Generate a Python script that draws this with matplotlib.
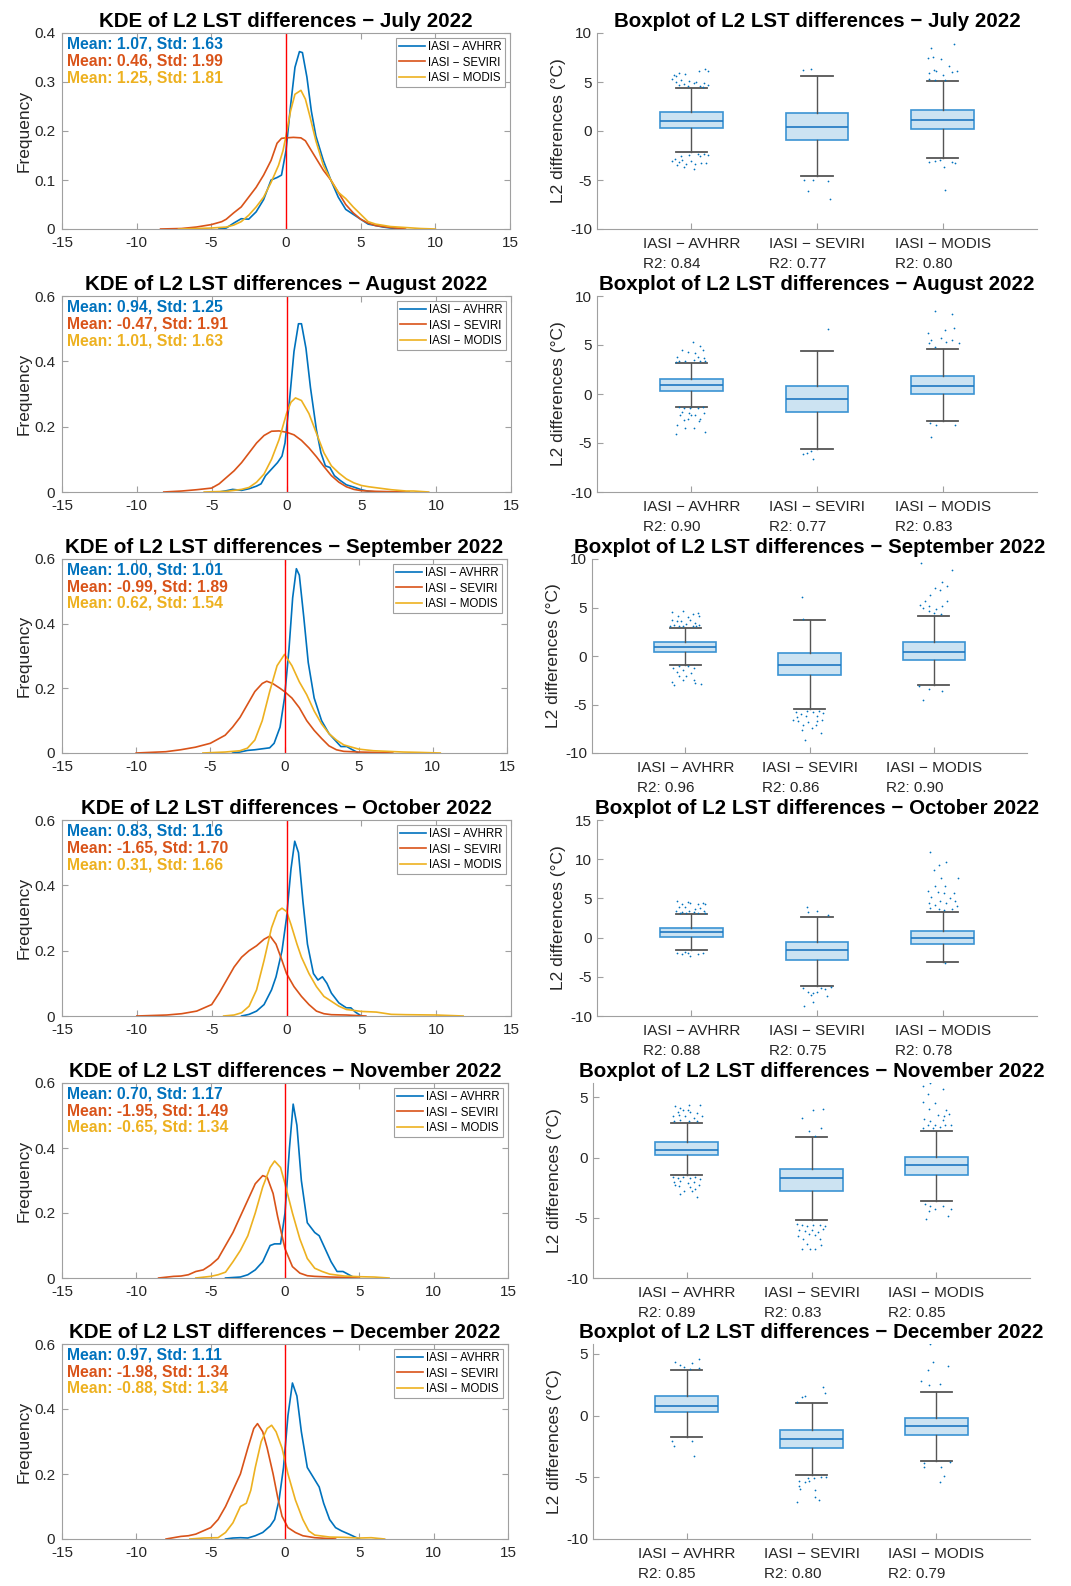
import matplotlib
matplotlib.use('Agg')
import matplotlib.pyplot as plt
import numpy as np

plt.rcParams['font.family'] = ['Liberation Sans', 'DejaVu Sans']
plt.rcParams['axes.unicode_minus'] = False

# ---- data ----
months = ['July', 'August', 'September', 'October', 'November', 'December']
series = ['IASI \u2212 AVHRR', 'IASI \u2212 SEVIRI', 'IASI \u2212 MODIS']
colors = ['#0072BD', '#D95319', '#EDB120']

means = [[1.07, 0.46, 1.25], [0.94, -0.47, 1.01], [1.00, -0.99, 0.62],
         [0.83, -1.65, 0.31], [0.70, -1.95, -0.65], [0.97, -1.98, -0.88]]
stds = [[1.63, 1.99, 1.81], [1.25, 1.91, 1.63], [1.01, 1.89, 1.54],
        [1.16, 1.70, 1.66], [1.17, 1.49, 1.34], [1.11, 1.34, 1.34]]
r2 = [[0.84, 0.77, 0.80], [0.90, 0.77, 0.83], [0.96, 0.86, 0.90],
      [0.88, 0.75, 0.78], [0.89, 0.83, 0.85], [0.85, 0.80, 0.79]]

kde_ymax = [0.4, 0.6, 0.6, 0.6, 0.6, 0.6]

# KDE curves (x, density)
kde_jul_avhrr = [(-4.5, 0), (-4, 0.002), (-3.5, 0.012), (-3, 0.021), (-2.5, 0.02), (-2, 0.035), (-1.5, 0.06),
                 (-1, 0.1), (-0.6, 0.105), (-0.3, 0.11), (0, 0.16), (0.3, 0.25), (0.6, 0.33), (0.9, 0.362),
                 (1.1, 0.36), (1.4, 0.31), (1.7, 0.24), (2, 0.19), (2.5, 0.14), (3, 0.1), (3.5, 0.065),
                 (4, 0.04), (4.5, 0.03), (5, 0.02), (5.5, 0.01), (6, 0.007), (6.5, 0.004), (7, 0.002), (7.8, 0)]
kde_jul_seviri = [(-8.4, 0), (-7, 0.001), (-6, 0.004), (-5, 0.009), (-4.3, 0.015), (-4, 0.02), (-3.5, 0.033),
                  (-3, 0.045), (-2.5, 0.065), (-2, 0.085), (-1.5, 0.11), (-1, 0.14), (-0.6, 0.175), (-0.3, 0.185),
                  (0, 0.186), (0.5, 0.187), (1, 0.186), (1.3, 0.18), (1.7, 0.16), (2, 0.145), (2.5, 0.12),
                  (3, 0.1), (3.5, 0.075), (4, 0.05), (4.5, 0.033), (5, 0.02), (5.5, 0.012), (6, 0.007),
                  (7, 0.003), (8, 0)]
kde_jul_modis = [(-7.2, 0), (-6, 0.001), (-5, 0.002), (-4, 0.004), (-3.5, 0.008), (-3, 0.015), (-2.5, 0.028),
                 (-2, 0.045), (-1.5, 0.065), (-1, 0.095), (-0.5, 0.13), (-0.2, 0.16), (0, 0.19), (0.3, 0.24),
                 (0.6, 0.275), (1, 0.283), (1.3, 0.265), (1.6, 0.23), (2, 0.18), (2.5, 0.13), (3, 0.1),
                 (3.5, 0.075), (4, 0.062), (4.5, 0.045), (5, 0.03), (5.5, 0.015), (6, 0.01), (7, 0.005),
                 (8, 0.003), (9, 0.001), (10, 0)]

kde_aug_avhrr = [(-4.5, 0), (-4, 0.004), (-3.6, 0.008), (-3, 0.005), (-2.5, 0.01), (-2, 0.018), (-1.7, 0.025),
                 (-1.4, 0.05), (-1, 0.07), (-0.6, 0.09), (-0.3, 0.11), (-0.1, 0.15), (0.2, 0.28), (0.5, 0.43),
                 (0.8, 0.515), (1.0, 0.515), (1.3, 0.44), (1.6, 0.32), (2, 0.19), (2.3, 0.12), (2.6, 0.08),
                 (2.9, 0.075), (3.2, 0.05), (3.6, 0.035), (4, 0.022), (4.5, 0.015), (5, 0.007), (5.5, 0.002),
                 (6, 0)]
kde_aug_seviri = [(-8.2, 0), (-7, 0.003), (-6, 0.007), (-5, 0.012), (-4.5, 0.025), (-4, 0.045), (-3.5, 0.065),
                  (-3, 0.09), (-2.5, 0.12), (-2, 0.15), (-1.5, 0.173), (-1, 0.186), (-0.5, 0.187), (0, 0.183),
                  (0.5, 0.175), (1, 0.158), (1.5, 0.135), (2, 0.108), (2.5, 0.078), (3, 0.05), (3.5, 0.03),
                  (4, 0.016), (4.5, 0.008), (5, 0.004), (6, 0.002), (7, 0.001), (8.2, 0)]
kde_aug_modis = [(-5.5, 0), (-4, 0.002), (-3, 0.008), (-2.5, 0.014), (-2, 0.03), (-1.5, 0.055), (-1, 0.1),
                 (-0.5, 0.16), (0, 0.24), (0.3, 0.275), (0.6, 0.288), (1, 0.28), (1.5, 0.24), (2, 0.18),
                 (2.5, 0.12), (3, 0.08), (3.5, 0.058), (4, 0.04), (4.5, 0.028), (5, 0.02), (5.5, 0.016),
                 (6, 0.013), (7, 0.007), (8, 0.003), (8.5, 0.003), (9.5, 0)]

kde_sep_avhrr = [(-3.5, 0), (-3, 0.003), (-2.5, 0.008), (-2, 0.01), (-1.5, 0.013), (-1, 0.016), (-0.7, 0.03),
                 (-0.3, 0.08), (0, 0.17), (0.3, 0.32), (0.55, 0.48), (0.8, 0.57), (1.0, 0.55), (1.3, 0.42),
                 (1.6, 0.28), (2, 0.17), (2.5, 0.1), (3, 0.06), (3.5, 0.035), (3.8, 0.02), (4.2, 0.02),
                 (4.5, 0.012), (5, 0)]
kde_sep_seviri = [(-10, 0), (-8, 0.004), (-7, 0.01), (-6, 0.018), (-5, 0.03), (-4, 0.055), (-3.5, 0.08),
                  (-3, 0.11), (-2.5, 0.15), (-2, 0.19), (-1.5, 0.215), (-1.2, 0.222), (-0.8, 0.215),
                  (-0.3, 0.2), (0, 0.19), (0.5, 0.17), (1, 0.14), (1.5, 0.1), (2, 0.07), (2.5, 0.045),
                  (3, 0.022), (3.5, 0.01), (4, 0.005), (5, 0.003), (6, 0.002), (7.3, 0)]
kde_sep_modis = [(-5.5, 0), (-4, 0.003), (-3, 0.007), (-2.5, 0.015), (-2, 0.04), (-1.5, 0.1), (-1, 0.19),
                 (-0.5, 0.27), (0, 0.305), (0.5, 0.27), (1, 0.22), (1.5, 0.18), (2, 0.13), (2.5, 0.09),
                 (3, 0.06), (3.5, 0.04), (4, 0.025), (5, 0.012), (6, 0.007), (7, 0.005), (8, 0.003),
                 (9, 0.002), (10.5, 0)]

kde_oct_avhrr = [(-3, 0), (-2.5, 0.005), (-2, 0.015), (-1.5, 0.035), (-1, 0.08), (-0.7, 0.12), (-0.3, 0.2),
                 (0, 0.3), (0.3, 0.45), (0.55, 0.535), (0.8, 0.5), (1.1, 0.35), (1.4, 0.22), (1.8, 0.13),
                 (2.1, 0.11), (2.4, 0.12), (2.7, 0.1), (3, 0.07), (3.5, 0.04), (4, 0.025), (4.3, 0.025),
                 (4.6, 0.012), (5, 0)]
kde_oct_seviri = [(-10, 0), (-8, 0.003), (-7, 0.007), (-6, 0.015), (-5, 0.035), (-4.5, 0.07), (-4, 0.11),
                  (-3.5, 0.15), (-3, 0.18), (-2.5, 0.2), (-2, 0.215), (-1.5, 0.235), (-1.1, 0.245),
                  (-0.7, 0.22), (-0.3, 0.17), (0, 0.13), (0.5, 0.09), (1, 0.06), (1.5, 0.035), (2, 0.015),
                  (2.5, 0.007), (3, 0.004), (4, 0.003), (5.3, 0)]
kde_oct_modis = [(-4.2, 0), (-3.5, 0.003), (-3, 0.01), (-2.5, 0.03), (-2, 0.08), (-1.5, 0.17), (-1, 0.27),
                 (-0.6, 0.32), (-0.3, 0.33), (0, 0.32), (0.3, 0.28), (0.7, 0.22), (1, 0.18), (1.5, 0.13),
                 (2, 0.09), (2.5, 0.06), (3, 0.045), (3.5, 0.03), (4, 0.02), (5, 0.014), (6, 0.012),
                 (7, 0.005), (8, 0.004), (10, 0.003), (11.8, 0)]

kde_nov_avhrr = [(-4, 0), (-3, 0.003), (-2.5, 0.01), (-2, 0.025), (-1.5, 0.05), (-1, 0.1), (-0.7, 0.105),
                 (-0.3, 0.105), (0, 0.2), (0.3, 0.4), (0.55, 0.535), (0.8, 0.47), (1.1, 0.3), (1.5, 0.17),
                 (2, 0.14), (2.3, 0.13), (2.7, 0.09), (3.1, 0.05), (3.5, 0.02), (3.9, 0.02), (4.3, 0.01),
                 (4.7, 0)]
kde_nov_seviri = [(-8.5, 0), (-7.5, 0.005), (-7, 0.006), (-6.5, 0.01), (-6, 0.02), (-5.5, 0.025), (-5, 0.04),
                  (-4.5, 0.06), (-4, 0.1), (-3.5, 0.14), (-3, 0.19), (-2.5, 0.24), (-2, 0.29), (-1.5, 0.315),
                  (-1.2, 0.31), (-0.8, 0.26), (-0.5, 0.19), (-0.2, 0.13), (0, 0.09), (0.5, 0.035), (1, 0.015),
                  (1.5, 0.007), (2, 0.005), (3, 0.003), (4, 0.002), (5, 0)]
kde_nov_modis = [(-6, 0), (-5, 0.005), (-4.5, 0.01), (-4, 0.018), (-3.5, 0.05), (-3, 0.085), (-2.5, 0.13),
                 (-2, 0.2), (-1.5, 0.28), (-1, 0.34), (-0.7, 0.36), (-0.3, 0.34), (0, 0.29), (0.5, 0.2),
                 (1, 0.12), (1.5, 0.06), (2, 0.03), (2.5, 0.02), (3, 0.012), (4, 0.006), (5, 0.004),
                 (6, 0.003), (7, 0)]

kde_dec_avhrr = [(-4, 0), (-3.5, 0.003), (-3, 0.004), (-2.5, 0.003), (-2, 0.01), (-1.5, 0.02), (-1, 0.04),
                 (-0.7, 0.06), (-0.4, 0.12), (-0.1, 0.22), (0.2, 0.38), (0.5, 0.48), (0.8, 0.44), (1.1, 0.33),
                 (1.5, 0.22), (1.9, 0.19), (2.3, 0.16), (2.6, 0.11), (3, 0.06), (3.4, 0.035), (3.8, 0.025),
                 (4.3, 0.015), (5, 0)]
kde_dec_seviri = [(-8, 0), (-7, 0.008), (-6.5, 0.01), (-6, 0.015), (-5.5, 0.025), (-5, 0.035), (-4.5, 0.06),
                  (-4, 0.1), (-3.5, 0.15), (-3, 0.2), (-2.5, 0.28), (-2.1, 0.34), (-1.85, 0.355), (-1.5, 0.33),
                  (-1.2, 0.28), (-0.8, 0.2), (-0.5, 0.13), (-0.2, 0.07), (0.2, 0.035), (0.7, 0.02),
                  (1.2, 0.01), (2, 0.004), (3.4, 0)]
kde_dec_modis = [(-6.4, 0), (-5.5, 0.003), (-4.5, 0.004), (-4, 0.02), (-3.5, 0.05), (-3, 0.1), (-2.6, 0.11),
                 (-2.3, 0.15), (-2, 0.22), (-1.6, 0.3), (-1.2, 0.34), (-0.9, 0.35), (-0.6, 0.33), (-0.2, 0.28),
                 (0.2, 0.2), (0.7, 0.12), (1.2, 0.06), (1.6, 0.025), (2, 0.012), (3, 0.006), (4, 0.005),
                 (5, 0.003), (5.8, 0.004), (6.7, 0)]

kde_curves = [[kde_jul_avhrr, kde_jul_seviri, kde_jul_modis],
              [kde_aug_avhrr, kde_aug_seviri, kde_aug_modis],
              [kde_sep_avhrr, kde_sep_seviri, kde_sep_modis],
              [kde_oct_avhrr, kde_oct_seviri, kde_oct_modis],
              [kde_nov_avhrr, kde_nov_seviri, kde_nov_modis],
              [kde_dec_avhrr, kde_dec_seviri, kde_dec_modis]]

# boxplot statistics per month, per pair
box_q1 = [[0.3, -0.88, 0.17], [0.34, -1.8, 0.0], [0.45, -2.0, -0.38],
          [0.09, -2.8, -0.77], [0.19, -2.75, -1.42], [0.27, -2.62, -1.6]]
box_med = [[1.0, 0.4, 1.1], [0.92, -0.48, 0.82], [0.96, -0.93, 0.38],
           [0.68, -1.53, 0.0], [0.63, -1.72, -0.62], [0.78, -1.86, -0.84]]
box_q3 = [[1.9, 1.8, 2.15], [1.5, 0.82, 1.84], [1.45, 0.27, 1.4],
          [1.28, -0.55, 0.9], [1.26, -0.98, 0.07], [1.62, -1.13, -0.16]]
box_lo = [[-2.15, -4.6, -2.8], [-1.3, -5.65, -2.8], [-0.96, -5.46, -3.0],
          [-1.58, -6.13, -3.07], [-1.45, -5.2, -3.58], [-1.75, -4.83, -3.72]]
box_hi = [[4.4, 5.6, 5.15], [3.17, 4.43, 4.57], [2.9, 3.7, 4.15],
          [3.07, 2.6, 3.32], [2.9, 1.68, 2.23], [3.72, 1.05, 1.89]]
box_ylim = [(-10, 10), (-10, 10), (-10, 10), (-10, 15), (-10, 6.2), (-10, 5.8)]
box_yticks = [[-10, -5, 0, 5, 10], [-10, -5, 0, 5, 10], [-10, -5, 0, 5, 10],
              [-10, -5, 0, 5, 10, 15], [-10, -5, 0, 5], [-10, -5, 0, 5]]

# jittered outliers: (x offset from box centre, value)
out_jul = [
    [(0.11, 6.3), (0.06, 6.1), (0.13, 6.1), (-0.1, 5.9), (-0.05, 5.85), (-0.14, 5.7), (-0.12, 5.6), (-0.15, 5.3),
     (-0.08, 5.2), (-0.02, 5.15), (0.04, 5.0), (-0.12, 4.95), (0.1, 4.9), (0.02, 4.85), (-0.06, 4.8), (0.13, 4.7),
     (-0.1, 4.65), (0.07, 4.6), (-0.03, 4.55), (0.09, 4.5),
     (0.05, -2.3), (0.1, -2.35), (-0.02, -2.4), (0.13, -2.45), (0.07, -2.5), (-0.08, -2.6), (-0.13, -2.9),
     (-0.07, -3.0), (-0.15, -3.05), (0.0, -3.1), (-0.1, -3.2), (0.08, -3.25), (0.12, -3.3), (-0.04, -3.35),
     (0.03, -3.4), (-0.11, -3.5), (-0.06, -3.7), (0.02, -3.9)],
    [(-0.11, 6.2), (-0.05, 6.3), (-0.1, -4.97), (-0.03, -4.97), (0.09, -5.1), (-0.07, -6.1), (0.1, -6.9)],
    [(-0.09, 8.47), (0.09, 8.9), (-0.12, 7.45), (-0.08, 7.55), (-0.01, 7.3), (-0.07, 6.25), (-0.05, 6.1),
     (0.05, 6.6), (-0.11, 5.9), (0.07, 6.0), (0.11, 6.1), (0.0, 5.75), (-0.11, 5.35), (0.02, 5.25), (-0.06, 5.25),
     (-0.11, -3.2), (-0.06, -3.1), (-0.02, -3.0), (0.07, -3.15), (0.1, -3.25), (0.01, -3.7), (0.02, -6.0)]]
out_aug = [
    [(0.01, 5.3), (-0.07, 4.5), (0.07, 4.85), (0.09, 4.5), (-0.03, 4.3), (0.03, 4.15), (-0.11, 3.8), (0.05, 3.8),
     (0.1, 3.65), (-0.1, 3.37), (-0.05, 3.37), (0.02, 3.5), (0.07, 3.37), (0.11, 3.37), (-0.12, 3.3),
     (-0.1, -1.36), (-0.06, -1.46), (-0.01, -1.46), (0.05, -1.46), (0.09, -1.36), (-0.07, -1.8), (-0.02, -1.98),
     (0.03, -2.15), (-0.03, -2.5), (0.07, -2.5), (-0.06, -2.65), (0.06, -2.8), (0.02, -3.5), (-0.11, -3.2),
     (-0.12, -4.1), (0.11, -3.85), (-0.05, -3.5), (0.0, -2.15), (-0.09, -2.15), (0.1, -1.98)],
    [(0.09, 6.6), (-0.11, -6.13), (-0.08, -6.07), (-0.05, -5.8), (-0.03, -6.65)],
    [(-0.06, 8.48), (0.07, 8.18), (-0.12, 6.27), (-0.09, 5.52), (-0.01, 5.69), (0.02, 6.54), (0.09, 6.71),
     (0.07, 5.52), (0.13, 5.18), (-0.06, 4.84), (-0.11, 5.18), (0.03, 5.35),
     (-0.1, -3.0), (-0.05, -3.17), (0.1, -3.17), (-0.09, -4.43)]]
out_sep = [
    [(-0.11, 4.5), (-0.02, 4.6), (0.06, 4.36), (0.1, 4.43), (-0.06, 4.09), (0.02, 4.02), (0.11, 4.09),
     (-0.11, 3.75), (-0.03, 3.57), (0.04, 3.75), (0.08, 3.4), (-0.09, 3.23), (-0.05, 3.13), (0.01, 3.33),
     (0.06, 3.13), (0.11, 3.2), (-0.12, 3.06), (-0.02, 3.06), (0.09, 3.06), (-0.07, 3.57),
     (-0.1, -1.24), (-0.05, -1.07), (0.02, -1.07), (0.07, -1.24), (-0.02, -1.48), (-0.07, -1.68), (0.05, -1.75),
     (0.01, -2.1), (-0.05, -2.1), (0.07, -2.44), (-0.11, -2.71), (-0.09, -2.96), (0.08, -2.78), (0.13, -2.85),
     (-0.02, -2.44)],
    [(-0.05, 3.81), (-0.06, 6.08),
     (-0.11, -5.81), (-0.07, -5.95), (-0.02, -5.7), (0.03, -5.81), (0.08, -5.7), (0.11, -5.88), (-0.1, -6.29),
     (-0.03, -6.22), (0.06, -6.22), (0.1, -6.63), (-0.09, -6.74), (-0.01, -6.84), (0.05, -7.08), (0.02, -7.42),
     (-0.05, -7.08), (-0.06, -7.6), (0.09, -7.94), (-0.04, -8.69), (-0.13, -6.56), (0.06, -6.74)],
    [(-0.1, 9.59), (0.15, 8.9), (0.07, 7.6), (0.11, 7.25), (0.01, 7.0), (-0.03, 6.32), (0.05, 6.84), (-0.07, 5.64),
     (0.11, 5.7), (-0.11, 5.29), (-0.04, 5.12), (-0.09, 4.95), (0.02, 4.85), (0.07, 5.12), (0.0, 4.43),
     (0.06, 4.36), (-0.04, 4.6),
     (-0.12, -3.13), (-0.04, -3.4), (0.07, -3.64), (-0.09, -4.5)]]
out_oct = [
    [(-0.11, 4.73), (-0.07, 4.3), (-0.03, 4.6), (-0.01, 4.39), (0.05, 4.3), (0.09, 4.39), (0.11, 4.3),
     (-0.1, 3.88), (-0.05, 3.96), (0.03, 3.62), (0.07, 3.75), (-0.12, 3.41), (-0.07, 3.32), (-0.02, 3.45),
     (0.02, 3.32), (0.1, 3.41), (-0.09, 3.19), (-0.04, 3.19), (0.05, 3.19), (0.11, 3.11),
     (-0.11, -1.92), (-0.07, -2.09), (-0.03, -2.0), (-0.01, -2.34), (0.05, -2.09), (0.09, -1.92), (-0.05, -1.79)],
    [(-0.08, 3.96), (-0.07, 3.32), (0.0, 3.45), (0.09, 2.9),
     (-0.11, -6.47), (-0.07, -6.9), (-0.03, -7.03), (0.0, -6.9), (0.03, -6.47), (0.06, -6.6), (0.11, -6.35),
     (0.08, -7.5), (-0.03, -8.18), (-0.1, -8.73), (-0.05, -7.33)],
    [(-0.1, 10.86), (0.03, 9.63), (-0.03, 9.28), (-0.07, 8.56), (-0.01, 7.58), (0.12, 7.58), (-0.06, 6.64),
     (0.02, 6.52), (-0.12, 5.99), (-0.04, 5.88), (0.01, 5.66), (0.09, 5.66), (-0.09, 5.24), (0.06, 5.03),
     (-0.02, 4.73), (0.1, 4.73), (-0.11, 4.39), (-0.06, 4.17), (0.03, 4.39), (0.11, 4.05), (-0.1, 3.75),
     (-0.03, 3.62), (0.07, 3.62), (0.01, 3.54), (0.02, -3.28)]]
out_nov = [
    [(-0.09, 4.3), (-0.05, 4.11), (0.02, 4.39), (0.11, 4.39), (-0.07, 3.83), (-0.03, 3.92), (0.03, 3.78),
     (0.08, 3.7), (-0.11, 3.42), (-0.01, 3.42), (0.06, 3.28), (0.12, 3.42), (-0.1, 3.06), (-0.05, 3.14),
     (0.02, 3.01), (0.08, 3.06), (-0.06, 3.56), (0.01, 3.97),
     (-0.11, -1.64), (-0.07, -1.7), (-0.03, -1.64), (0.03, -1.7), (0.07, -1.64), (0.11, -1.75), (-0.1, -2.03),
     (-0.05, -1.92), (0.01, -2.11), (0.06, -2.03), (0.1, -2.25), (-0.06, -2.39), (0.03, -2.47), (0.07, -2.58),
     (-0.02, -2.8), (-0.05, -3.03), (0.08, -3.3), (0.04, -2.8), (-0.09, -2.25)],
    [(-0.08, 3.28), (0.01, 3.97), (0.09, 4.06), (-0.02, 2.23), (0.08, 2.5), (0.03, 1.76),
     (-0.12, -5.51), (-0.08, -5.57), (-0.04, -5.71), (0.01, -5.57), (0.07, -5.63), (0.11, -5.71), (-0.1, -5.99),
     (-0.05, -6.13), (0.0, -5.99), (0.05, -6.18), (0.09, -5.9), (-0.11, -6.54), (-0.02, -6.35), (0.03, -6.46),
     (-0.07, -6.74), (0.07, -6.74), (-0.04, -7.18), (-0.08, -7.56), (-0.01, -7.56), (0.03, -7.56), (0.08, -7.29)],
    [(-0.11, 5.92), (-0.05, 6.19), (0.05, 5.69), (-0.07, 5.28), (-0.11, 4.61), (-0.01, 4.53), (-0.06, 4.03),
     (0.08, 3.97), (-0.1, 3.23), (0.01, 3.51), (0.06, 3.42), (0.1, 3.61), (-0.05, 3.01), (0.05, 3.14),
     (-0.07, 2.73), (-0.01, 2.73), (0.07, 2.68), (0.12, 2.73), (-0.11, 2.46), (-0.03, 2.46), (0.03, 2.54),
     (-0.09, -3.86), (-0.05, -4.05), (-0.01, -4.24), (0.05, -4.05), (0.12, -4.24), (-0.06, -4.41), (0.09, -4.88),
     (-0.08, -5.07)]]
out_dec = [
    [(-0.09, 4.37), (-0.05, 4.1), (-0.02, 3.91), (0.04, 4.24), (0.1, 4.59), (0.1, 3.83), (0.03, 3.75),
     (-0.12, -2.02), (0.04, -2.02), (-0.1, -2.43), (0.06, -3.26)],
    [(-0.12, 1.13), (-0.08, 1.54), (-0.05, 1.59), (0.09, 2.29), (0.11, 1.86),
     (-0.1, -5.34), (-0.05, -5.42), (-0.02, -5.34), (0.02, -5.07), (0.08, -4.99), (0.12, -4.94), (-0.09, -5.96),
     (-0.1, -5.69), (0.03, -6.07), (0.03, -6.56), (0.06, -6.88), (-0.12, -7.01), (-0.03, -5.07)],
    [(-0.05, 5.8), (-0.03, 4.32), (0.09, 4.05), (-0.07, 3.7), (-0.12, 2.81), (-0.06, 2.48), (0.03, 2.56),
     (-0.1, -3.86), (0.04, -4.13), (-0.1, -4.19), (0.06, -4.88), (0.03, -5.4), (0.11, -3.75)]]
box_outliers = [out_jul, out_aug, out_sep, out_oct, out_nov, out_dec]

# ---- layout (pixel boxes of each axes: x0, x1, y0, y1) ----
W, H = 1071, 1586
kde_boxes = [(62, 510, 33, 229), (62, 511, 296, 492), (62, 507, 559, 753),
             (62, 511, 820, 1016), (62, 508, 1083, 1278), (62, 508, 1344, 1539)]
box_boxes = [(597, 1037, 33, 229), (597, 1037, 296, 492), (592, 1027, 559, 753),
             (597, 1037, 820, 1016), (593, 1030, 1083, 1278), (593, 1030, 1344, 1539)]

spine_col = '#a0a0a0'
text_col = '#262626'


def px_rect(x0, x1, y0, y1):
    return [x0 / W, 1 - y1 / H, (x1 - x0) / W, (y1 - y0) / H]


def style_axes(ax):
    for s in ax.spines.values():
        s.set_color(spine_col)
        s.set_linewidth(0.8)
    ax.tick_params(direction='in', length=4, width=0.8, color=spine_col,
                   labelcolor=text_col, labelsize=11)


fig = plt.figure(figsize=(W / 100, H / 100), dpi=100)

for i, month in enumerate(months):
    # KDE panel
    ax = fig.add_axes(px_rect(*kde_boxes[i]))
    for j in range(3):
        pts = np.array(kde_curves[i][j])
        ax.plot(pts[:, 0], pts[:, 1], color=colors[j], lw=1.2, label=series[j])
    ax.axvline(0, color='red', lw=1.0)
    ax.set_xlim(-15, 15)
    ax.set_ylim(0, kde_ymax[i])
    xt = [-15, -10, -5, 0, 5, 10, 15]
    ax.set_xticks(xt, [str(v) for v in xt])
    if kde_ymax[i] == 0.4:
        yt = [0, 0.1, 0.2, 0.3, 0.4]
    else:
        yt = [0, 0.2, 0.4, 0.6]
    ax.set_yticks(yt, ['0' if v == 0 else f'{v:g}' for v in yt])
    style_axes(ax)
    ax.tick_params(top=True, right=True, pad=5)
    ax.set_ylabel('Frequency', fontsize=12.5, color=text_col, labelpad=2)
    ax.set_title(f'KDE of L2 LST differences \u2212 {month} 2022', fontsize=14.8,
                 fontweight='bold', pad=4)
    for j in range(3):
        ax.text(0.012, 1 - (11.3 + 16.7 * j) / 196,
                f'Mean: {means[i][j]:.2f}, Std: {stds[i][j]:.2f}',
                transform=ax.transAxes, color=colors[j], fontsize=11.3,
                fontweight='bold', va='center', ha='left')
    leg = ax.legend(loc='upper right', fontsize=8.3, fancybox=False, framealpha=1,
                    edgecolor=spine_col, borderpad=0.3, labelspacing=0.3,
                    handlelength=2.2, handletextpad=0.3, borderaxespad=0.4)
    leg.get_frame().set_linewidth(0.8)

    # boxplot panel
    bx = fig.add_axes(px_rect(*box_boxes[i]))
    stats = []
    for j in range(3):
        stats.append(dict(med=box_med[i][j], q1=box_q1[i][j], q3=box_q3[i][j],
                          whislo=box_lo[i][j], whishi=box_hi[i][j], fliers=[]))
    bx.bxp(stats, positions=[1, 2, 3], widths=0.5, capwidths=0.25,
           patch_artist=True, showfliers=False,
           boxprops=dict(facecolor='#cce3f2', edgecolor='#3b93d3', linewidth=1.2),
           medianprops=dict(color='#1f78c1', linewidth=1.2),
           whiskerprops=dict(color='#555555', linewidth=1.0),
           capprops=dict(color='#555555', linewidth=1.3))
    for j, pts in enumerate(box_outliers[i]):
        arr = np.array(pts)
        bx.scatter(j + 1 + arr[:, 0], arr[:, 1], s=1.6, color='#0072BD',
                   linewidths=0, zorder=3)
    bx.set_xlim(0.25, 3.75)
    bx.set_ylim(*box_ylim[i])
    bx.set_yticks(box_yticks[i], [str(v) for v in box_yticks[i]])
    bx.set_xticks([1, 2, 3], [f'{series[j]}\nR2: {r2[i][j]:.2f}' for j in range(3)])
    style_axes(bx)
    bx.spines['top'].set_visible(False)
    bx.spines['right'].set_visible(False)
    bx.tick_params(axis='x', pad=6)
    for lbl in bx.get_xticklabels():
        lbl.set_multialignment('left')
        lbl.set_linespacing(1.55)
    bx.set_ylabel('L2 differences (\u00b0C)', fontsize=12.5, color=text_col, labelpad=3)
    bx.set_title(f'Boxplot of L2 LST differences \u2212 {month} 2022', fontsize=14.8,
                 fontweight='bold', pad=4)

fig.savefig('out.png', dpi=100, facecolor='white')
